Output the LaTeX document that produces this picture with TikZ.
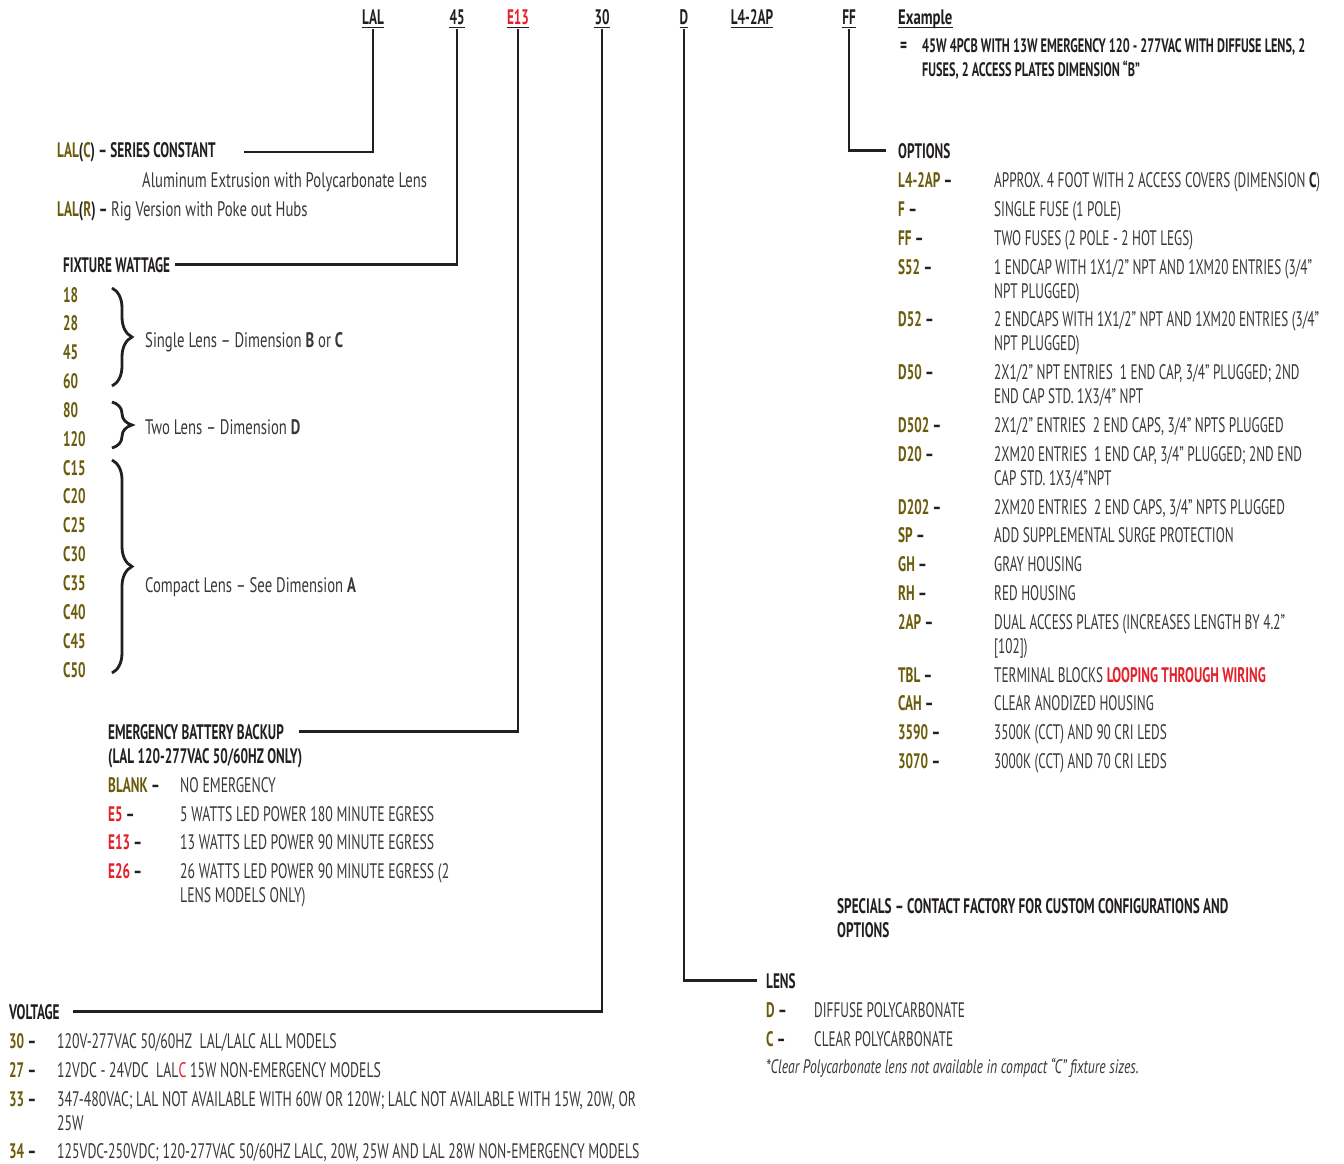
\documentclass[tikz,border=0pt]{standalone}
\usepackage{fontspec}
\setmainfont{PT Sans}[FakeStretch=0.63]
\newfontfamily\mixfont{PT Sans}[FakeStretch=0.70]
\newfontfamily\widefont{PT Sans}[FakeStretch=0.655]
\usetikzlibrary{decorations.pathreplacing}

\definecolor{olivecode}{HTML}{6B5C0C}
\definecolor{redcode}{HTML}{E3202A}
\definecolor{inkgray}{HTML}{383838}
\definecolor{inkdark}{HTML}{231F20}

\tikzset{
  txt/.style={anchor=base west,inner sep=0pt,text=inkgray,
    font=\fontsize{21}{24}\selectfont},
  mix/.style={txt,font=\fontsize{21}{24}\selectfont\mixfont},
  wtxt/.style={txt,font=\fontsize{21}{24}\selectfont\widefont},
  hd/.style={txt,text=inkdark,font=\fontsize{21}{24}\selectfont\bfseries},
  code/.style={hd,text=olivecode},
  ecode/.style={hd,text=redcode},
  head/.style={hd,anchor=base},
  lead/.style={line width=2.5pt,draw=inkdark},
  ul/.style={line width=1.3pt,draw=inkdark},
  bracket/.style={line width=2.8pt,draw=inkdark,
    decorate,decoration={brace,amplitude=20pt}}
}
\newcommand{\dsh}{~\textcolor{inkdark}{–}}

\begin{document}
\begin{tikzpicture}[x=1pt,y=-1pt]
  \useasboundingbox (0,0) rectangle (1344,1164);

  % catalog number
  \node[head] (hLAL) at (373,25) {LAL};
  \node[head] (h45) at (457,25) {45};
  \node[head,text=redcode] (hE13) at (518,25) {E13};
  \node[head] (h30) at (602,25) {30};
  \node[head] (hD) at (684,25) {D};
  \node[head] (hL4) at (752,25) {L4-2AP};
  \node[head] (hFF) at (849,25) {FF};
  \node[hd,font=\fontsize{21}{24}\selectfont\mixfont\bfseries] (hEx) at (898,25) {Example};
  \foreach \n in {hLAL,h45,hE13,h30,hD,hL4,hFF,hEx}
    \draw[ul] ([yshift=-2.5pt]\n.base west) -- ([yshift=-2.5pt]\n.base east);
  \node[hd] (exeq) at (900,53) {=};
  \node[hd,align=left,font=\fontsize{19.5}{24}\selectfont\bfseries] (exline) at (922,77)
    {45W 4PCB WITH 13W EMERGENCY 120 - 277VAC WITH DIFFUSE LENS, 2\\
     FUSES, 2 ACCESS PLATES DIMENSION “B”};

  % series
  \node[hd] (series) at (57,157)
    {\textcolor{olivecode}{LAL}(\textcolor{olivecode}{C}) – SERIES CONSTANT};
  \node[mix] (alu) at (142,187) {Aluminum Extrusion with Polycarbonate Lens};
  \node[hd] (rig) at (57,216)
    {\textcolor{olivecode}{LAL}(\textcolor{olivecode}{R}) –
     \mdseries\mixfont\textcolor{inkgray}{Rig Version with Poke out Hubs}};

  % fixture wattage
  \node[hd] (watt) at (63,272) {FIXTURE WATTAGE};
  \foreach \w [count=\i] in {18,28,45,60,80,120,C15,C20,C25,C30,C35,C40,C45,C50}
    \node[code] (w\i) at (63,{302+28.85*(\i-1)}) {\w};
  \draw[bracket] (112,288) -- (112,386);
  \draw[bracket] (112,402) -- (112,448);
  \draw[bracket] (112,460) -- (112,673);
  \node[mix] (single) at (145,347) {Single Lens – Dimension \textbf{B} or \textbf{C}};
  \node[mix] (twolens) at (145,434) {Two Lens – Dimension \textbf{D}};
  \node[mix] (compact) at (145,592) {Compact Lens – See Dimension \textbf{A}};

  % emergency
  \node[hd] (emerg) at (108,739) {EMERGENCY BATTERY BACKUP};
  \node[hd] (emerg2) at (108,763) {(LAL 120-277VAC 50/60HZ ONLY)};
  \node[code] (eBL) at (108,792) {BLANK\dsh};
  \node[wtxt] (eBLd) at (180,792) {NO EMERGENCY};
  \node[ecode] (e5) at (108,821) {E5\dsh};
  \node[wtxt] (e5d) at (180,821) {5 WATTS LED POWER 180 MINUTE EGRESS};
  \node[ecode] (e13) at (108,849) {E13\dsh};
  \node[wtxt] (e13d) at (180,849) {13 WATTS LED POWER 90 MINUTE EGRESS};
  \node[ecode] (e26) at (108,878) {E26\dsh};
  \node[wtxt,align=left] (e26d) at (180,902)
    {26 WATTS LED POWER 90 MINUTE EGRESS (2\\LENS MODELS ONLY)};

  % voltage
  \node[hd] (volt) at (9,1019) {VOLTAGE};
  \node[code] (v30) at (9,1048) {30\dsh};
  \node[wtxt] (v30d) at (57,1048) {120V-277VAC 50/60HZ\ \ LAL/LALC ALL MODELS};
  \node[code] (v27) at (9,1077) {27\dsh};
  \node[wtxt] (v27d) at (57,1077)
    {12VDC - 24VDC\ \ LAL\textcolor{redcode}{C} 15W NON-EMERGENCY MODELS};
  \node[code] (v33) at (9,1106) {33\dsh};
  \node[wtxt,align=left] (v33d) at (57,1130)
    {347-480VAC; LAL NOT AVAILABLE WITH 60W OR 120W; LALC NOT AVAILABLE WITH 15W, 20W, OR\\25W};
  \node[code] (v34) at (9,1158) {34\dsh};
  \node[wtxt] (v34d) at (57,1158)
    {125VDC-250VDC; 120-277VAC 50/60HZ LALC, 20W, 25W AND LAL 28W NON-EMERGENCY MODELS};

  % options
  \node[hd] (opts) at (898,158) {OPTIONS};
  \node[code] (oL4) at (898,187) {L4-2AP\dsh};
  \node[txt] (oL4d) at (994,187) {APPROX. 4 FOOT WITH 2 ACCESS COVERS (DIMENSION \textbf{\textcolor{inkdark}{C}})};
  \node[code] (oF) at (898,216) {F\dsh};
  \node[txt] (oFd) at (994,216) {SINGLE FUSE (1 POLE)};
  \node[code] (oFF) at (898,245) {FF\dsh};
  \node[txt] (oFFd) at (994,245) {TWO FUSES (2 POLE - 2 HOT LEGS)};
  \node[code] (oS52) at (898,274) {S52\dsh};
  \node[txt,align=left] (oS52d) at (994,298)
    {1 ENDCAP WITH 1X1/2” NPT AND 1XM20 ENTRIES (3/4”\\NPT PLUGGED)};
  \node[code] (oD52) at (898,326) {D52\dsh};
  \node[txt,align=left] (oD52d) at (994,350)
    {2 ENDCAPS WITH 1X1/2” NPT AND 1XM20 ENTRIES (3/4”\\NPT PLUGGED)};
  \node[code] (oD50) at (898,379) {D50\dsh};
  \node[txt,align=left] (oD50d) at (994,403)
    {2X1/2” NPT ENTRIES\ \ 1 END CAP, 3/4” PLUGGED; 2ND\\END CAP STD. 1X3/4” NPT};
  \node[code] (oD502) at (898,432) {D502\dsh};
  \node[txt] (oD502d) at (994,432) {2X1/2” ENTRIES\ \ 2 END CAPS, 3/4” NPTS PLUGGED};
  \node[code] (oD20) at (898,461) {D20\dsh};
  \node[txt,align=left] (oD20d) at (994,485)
    {2XM20 ENTRIES\ \ 1 END CAP, 3/4” PLUGGED; 2ND END\\CAP STD. 1X3/4”NPT};
  \node[code] (oD202) at (898,514) {D202\dsh};
  \node[txt] (oD202d) at (994,514) {2XM20 ENTRIES\ \ 2 END CAPS, 3/4” NPTS PLUGGED};
  \node[code] (oSP) at (898,542) {SP\dsh};
  \node[txt] (oSPd) at (994,542) {ADD SUPPLEMENTAL SURGE PROTECTION};
  \node[code] (oGH) at (898,571) {GH\dsh};
  \node[txt] (oGHd) at (994,571) {GRAY HOUSING};
  \node[code] (oRH) at (898,600) {RH\dsh};
  \node[txt] (oRHd) at (994,600) {RED HOUSING};
  \node[code] (o2AP) at (898,629) {2AP\dsh};
  \node[txt,align=left] (o2APd) at (994,653)
    {DUAL ACCESS PLATES (INCREASES LENGTH BY 4.2”\\{[}102{]})};
  \node[code] (oTBL) at (898,682) {TBL\dsh};
  \node[txt] (oTBLd) at (994,682)
    {TERMINAL BLOCKS \textcolor{redcode}{\bfseries LOOPING THROUGH WIRING}};
  \node[code] (oCAH) at (898,710) {CAH\dsh};
  \node[txt] (oCAHd) at (994,710) {CLEAR ANODIZED HOUSING};
  \node[code] (o3590) at (898,739) {3590\dsh};
  \node[txt] (o3590d) at (994,739) {3500K (CCT) AND 90 CRI LEDS};
  \node[code] (o3070) at (898,768) {3070\dsh};
  \node[txt] (o3070d) at (994,768) {3000K (CCT) AND 70 CRI LEDS};

  % specials and lens
  \node[hd,align=left] (specials) at (837,937)
    {SPECIALS – CONTACT FACTORY FOR CUSTOM CONFIGURATIONS AND\\OPTIONS};
  \node[hd] (lens) at (766,988) {LENS};
  \node[code] (lD) at (766,1017) {D\dsh};
  \node[txt] (lDd) at (814,1017) {DIFFUSE POLYCARBONATE};
  \node[code] (lC) at (766,1046) {C\dsh};
  \node[txt] (lCd) at (814,1046) {CLEAR POLYCARBONATE};
  \node[txt,font=\fontsize{19.5}{22}\selectfont\mixfont\itshape] (lnote) at (766,1073)
    {*Clear Polycarbonate lens not available in compact “C” fixture sizes.};

  % leaders
  \draw[lead] ([yshift=-4pt]hLAL.base) |- ([xshift=28pt]series.east);
  \draw[lead] ([yshift=-4pt]h45.base) |- ([xshift=5pt]watt.east);
  \draw[lead] ([yshift=-4pt]hE13.base) |- ([xshift=15pt]emerg.east);
  \draw[lead] ([yshift=-4pt]h30.base) |- ([xshift=13pt]volt.east);
  \draw[lead] ([yshift=-4pt]hD.base) |- ([xshift=-9pt]lens.west);
  \draw[lead] ([yshift=-4pt]hFF.base) |- ([xshift=-12pt]opts.west);
\end{tikzpicture}
\end{document}
